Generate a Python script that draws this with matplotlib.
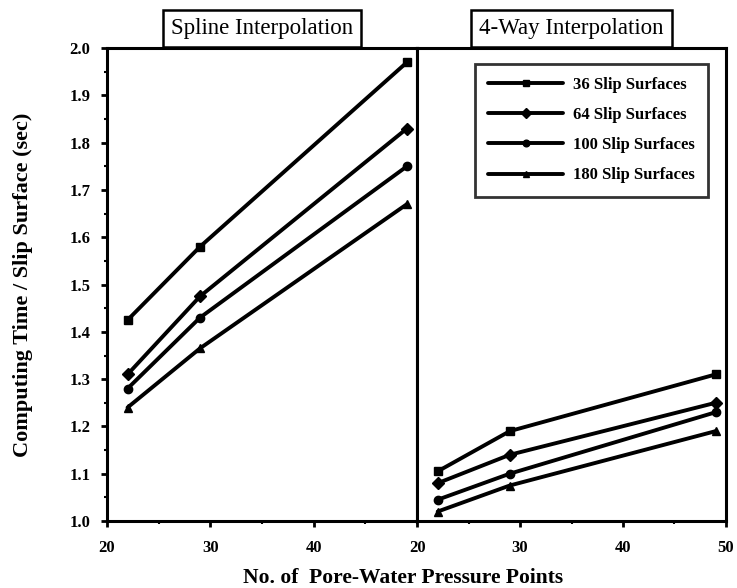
import matplotlib.pyplot as plt
from matplotlib.ticker import MultipleLocator

plt.rcParams['font.family'] = ['Liberation Serif', 'DejaVu Serif']

# number of pore-water pressure points
x_pts = [22, 29, 49]

series_labels = ["36 Slip Surfaces", "64 Slip Surfaces",
                 "100 Slip Surfaces", "180 Slip Surfaces"]
markers = ["s", "D", "o", "^"]

# spline interpolation (sec per slip surface)
spline_36 = [1.425, 1.58, 1.97]
spline_64 = [1.31, 1.475, 1.83]
spline_100 = [1.28, 1.43, 1.75]
spline_180 = [1.24, 1.365, 1.67]

# 4-way interpolation
fourway_36 = [1.105, 1.19, 1.31]
fourway_64 = [1.08, 1.14, 1.25]
fourway_100 = [1.045, 1.10, 1.23]
fourway_180 = [1.02, 1.075, 1.19]

spline = [spline_36, spline_64, spline_100, spline_180]
fourway = [fourway_36, fourway_64, fourway_100, fourway_180]

fig = plt.figure(figsize=(7.37, 5.88), dpi=100)
ax1 = fig.add_axes([0.145, 0.114, 0.421, 0.804])
ax2 = fig.add_axes([0.566, 0.114, 0.419, 0.804], sharey=ax1)

for ax, data, title in [(ax1, spline, "Spline Interpolation"),
                        (ax2, fourway, "4-Way Interpolation")]:
    for vals, m, lab in zip(data, markers, series_labels):
        ax.plot(x_pts, vals, color="black", lw=2.8, marker=m, ms=6,
                label=lab, solid_capstyle="round")
    ax.set_xlim(20, 50)
    ax.set_ylim(1.0, 2.0)
    ax.xaxis.set_major_locator(MultipleLocator(10))
    ax.xaxis.set_minor_locator(MultipleLocator(5))
    ax.yaxis.set_major_locator(MultipleLocator(0.1))
    ax.yaxis.set_minor_locator(MultipleLocator(0.05))
    ax.tick_params(which="major", direction="out", length=4, width=2,
                   labelsize=12)
    ax.tick_params(axis="x", which="major", pad=10)
    ax.tick_params(axis="y", which="major", pad=8)
    ax.tick_params(which="minor", direction="out", length=2.5, width=1.5)
    for sp in ax.spines.values():
        sp.set_linewidth(2.2)
    # boxed panel title sitting on the top spine
    ax.text(0.5, 1.019, title, transform=ax.transAxes, ha="center",
            va="bottom", fontsize=16.5,
            bbox=dict(boxstyle="square,pad=0.35", fc="white", ec="black",
                      lw=1.8))

ax1.set_xticks([20, 30, 40])
ax1.set_xticklabels(["20", "30", "40"], fontweight="bold")
ax1.set_yticks([1.0, 1.1, 1.2, 1.3, 1.4, 1.5, 1.6, 1.7, 1.8, 1.9, 2.0])
ax1.set_yticklabels(["1.0", "1.1", "1.2", "1.3", "1.4", "1.5",
                     "1.6", "1.7", "1.8", "1.9", "2.0"], fontweight="bold")
ax2.set_xticks([20, 30, 40, 50])
ax2.set_xticklabels(["20", "30", "40", "50"], fontweight="bold")
ax2.tick_params(axis="y", which="both", left=False, labelleft=False)

ax1.set_ylabel("Computing Time / Slip Surface (sec)", fontsize=16,
               fontweight="bold", labelpad=26)
fig.text(0.547, 0.017, "No. of  Pore-Water Pressure Points", ha="center",
         va="center", fontsize=15.5, fontweight="bold")

leg = ax2.legend(loc="upper right", bbox_to_anchor=(0.97, 0.985),
                 frameon=True, fancybox=False, edgecolor="black",
                 prop={"weight": "bold", "size": 12}, handlelength=4.5,
                 borderpad=0.8, labelspacing=0.85, markerscale=0.8,
                 handletextpad=0.6)
leg.get_frame().set_linewidth(2)

fig.savefig("out.png", dpi=100)
